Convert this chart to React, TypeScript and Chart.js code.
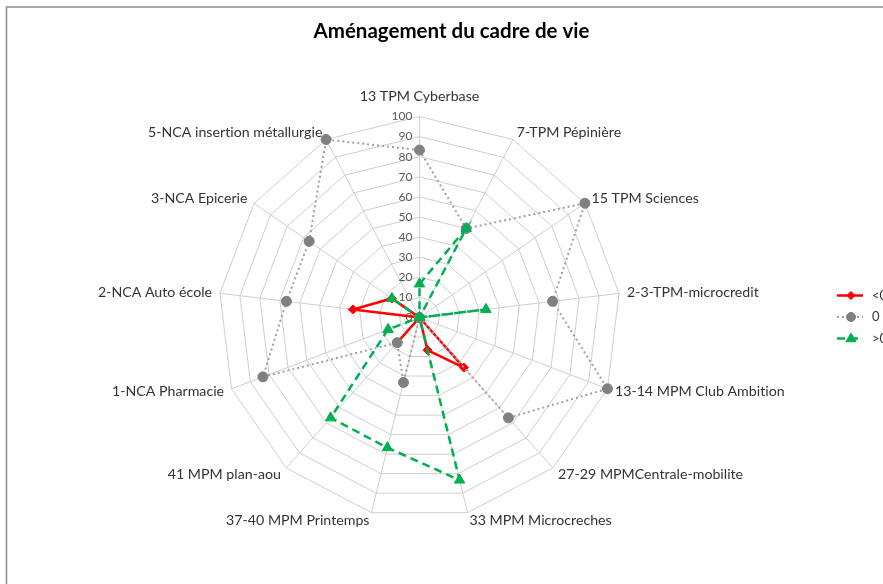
import React, { useEffect, useRef } from "react";
import { Chart, registerables } from "chart.js";

Chart.register(...registerables);

const categories: string[] = [
  "13 TPM Cyberbase",
  "7-TPM Pépinière",
  "15 TPM Sciences",
  "2-3-TPM-microcredit",
  "13-14 MPM Club Ambition",
  "27-29 MPMCentrale-mobilite",
  "33 MPM Microcreches",
  "37-40 MPM Printemps",
  "41 MPM plan-aou",
  "1-NCA Pharmacie",
  "2-NCA Auto école",
  "3-NCA Epicerie",
  "5-NCA insertion métallurgie",
];

const seriesNegative: number[] = [0, 0, 0, 0, 0, 33.3, 16.7, 0, 16.7, 0, 33.3, 16.7, 0];
const seriesZero: number[] = [83.3, 50, 100, 66.7, 100, 66.7, 0, 33.3, 16.7, 83.3, 66.7, 66.7, 100];
const seriesPositive: number[] = [16.7, 50, 0, 33.3, 0, 0, 83.3, 66.7, 66.7, 16.7, 0, 16.7, 0];

const seriesNames: string[] = ["<0", "0", ">0"];
const chartTitle = "Aménagement du cadre de vie";
const tickMin = 0;
const tickMax = 100;
const tickStep = 10;

const LABEL_FONT = "14.2px Lato";
const TICK_FONT = "12px Lato";

const geometryPlugin = {
  id: "geometry",
  afterLayout(chart: any) {
    const s = chart.scales.r;
    s.xCenter = 419.5;
    s.yCenter = 317.5;
    s.drawingArea = 201;
  },
};

const framePlugin = {
  id: "frame",
  beforeDraw(chart: any) {
    const ctx = chart.ctx;
    ctx.save();
    ctx.fillStyle = "#ffffff";
    ctx.fillRect(0, 0, chart.width, chart.height);
    ctx.strokeStyle = "#8c8c8c";
    ctx.lineWidth = 1.5;
    ctx.beginPath();
    ctx.moveTo(6.5, chart.height + 2);
    ctx.lineTo(6.5, 7);
    ctx.lineTo(chart.width + 2, 7);
    ctx.stroke();
    ctx.restore();
  },
};

const labelsPlugin = {
  id: "radarLabels",
  beforeDatasetsDraw(chart: any) {
    const s = chart.scales.r;
    const ctx = chart.ctx;
    ctx.save();
    try { (ctx as any).textRendering = "optimizeSpeed"; } catch (e) {}
    ctx.font = TICK_FONT;
    ctx.fillStyle = "#595959";
    ctx.textAlign = "right";
    ctx.textBaseline = "middle";
    s.ticks.forEach((t: any) => {
      const d = s.getDistanceFromCenterForValue(t.value);
      ctx.fillText(String(t.value), s.xCenter - 7, s.yCenter - d);
    });
    ctx.font = LABEL_FONT;
    ctx.fillStyle = "#333333";
    const n = chart.data.labels.length;
    for (let i = 0; i < n; i++) {
      const a = s.getIndexAngle(i);
      const sx = Math.sin(a);
      const cy = Math.cos(a);
      let pad = 8;
      if (cy > 0.99) pad = 20;
      const p = s.getPointPosition(i, s.drawingArea + pad);
      if (sx > 0.05) ctx.textAlign = "left";
      else if (sx < -0.05) ctx.textAlign = "right";
      else ctx.textAlign = "center";
      ctx.textBaseline = "middle";
      ctx.fillText(chart.data.labels[i], p.x, p.y);
    }
    ctx.restore();
  },
};

function drawMarker(ctx: CanvasRenderingContext2D, style: string, x: number, y: number, r: number, color: string) {
  ctx.fillStyle = color;
  ctx.strokeStyle = color;
  ctx.lineWidth = 1;
  ctx.setLineDash([]);
  ctx.beginPath();
  if (style === "circle") {
    ctx.arc(x, y, r, 0, Math.PI * 2);
  } else if (style === "rectRot") {
    ctx.moveTo(x, y - r);
    ctx.lineTo(x + r, y);
    ctx.lineTo(x, y + r);
    ctx.lineTo(x - r, y);
    ctx.closePath();
  } else {
    ctx.moveTo(x, y - r);
    ctx.lineTo(x + r * 0.95, y + r * 0.6);
    ctx.lineTo(x - r * 0.95, y + r * 0.6);
    ctx.closePath();
  }
  ctx.fill();
  ctx.stroke();
}

const legendPlugin = {
  id: "customLegend",
  afterDraw(chart: any) {
    const ctx = chart.ctx;
    ctx.save();
    const x0 = 837;
    const y0 = 295.5;
    chart.data.datasets.forEach((ds: any, i: number) => {
      const y = y0 + i * 21.5;
      ctx.strokeStyle = ds.borderColor;
      ctx.lineWidth = ds.borderWidth;
      ctx.setLineDash(ds.borderDash || []);
      ctx.beginPath();
      ctx.moveTo(x0, y);
      ctx.lineTo(x0 + 26, y);
      ctx.stroke();
      drawMarker(ctx, ds.pointStyle, x0 + 14, y, ds.pointRadius * 0.9, ds.pointBackgroundColor);
      ctx.font = "13px Lato";
      ctx.fillStyle = "#333333";
      ctx.textAlign = "left";
      ctx.textBaseline = "middle";
      ctx.fillText(ds.label, x0 + 35, y);
    });
    ctx.restore();
  },
};

export default function App() {
  const ref = useRef<HTMLCanvasElement>(null);
  useEffect(() => {
    if (!ref.current) return;
    const chart = new Chart(ref.current, {
      type: "radar",
      data: {
        labels: categories,
        datasets: [
          {
            label: seriesNames[0],
            data: seriesNegative,
            borderColor: "#ff0000",
            borderWidth: 2.5,
            pointStyle: "rectRot",
            pointRadius: 4.5,
            pointBackgroundColor: "#ff0000",
            pointBorderColor: "#ff0000",
            pointBorderWidth: 1,
            fill: false,
            order: 3,
          },
          {
            label: seriesNames[1],
            data: seriesZero,
            borderColor: "#a0a0a0",
            borderWidth: 2,
            borderDash: [2, 3],
            pointStyle: "circle",
            pointRadius: 5,
            pointBackgroundColor: "#808080",
            pointBorderColor: "#808080",
            pointBorderWidth: 1,
            fill: false,
            order: 2,
          },
          {
            label: seriesNames[2],
            data: seriesPositive,
            borderColor: "#00b050",
            borderWidth: 2.5,
            borderDash: [8, 5],
            pointStyle: "triangle",
            pointRadius: 6,
            pointBackgroundColor: "#00b050",
            pointBorderColor: "#00b050",
            pointBorderWidth: 1,
            fill: false,
            order: 1,
          },
        ] as any,
      },
      options: {
        responsive: false,
        animation: false,
        layout: { padding: { left: 20, right: 0, top: 0, bottom: 0 } },
        elements: { line: { tension: 0 } },
        scales: {
          r: {
            min: tickMin,
            max: tickMax,
            ticks: { stepSize: tickStep, display: false },
            grid: { color: "#cfcfcf", lineWidth: 1, circular: false },
            angleLines: { color: "#cfcfcf", lineWidth: 1 },
            pointLabels: { display: false },
          },
        },
        plugins: {
          legend: { display: false },
          tooltip: { enabled: false },
          title: {
            display: true,
            text: chartTitle,
            color: "#000000",
            font: { family: "Lato", size: 20.5, weight: "bold" },
            padding: { top: 19, bottom: 10 },
          },
        },
      } as any,
      plugins: [geometryPlugin, framePlugin, labelsPlugin, legendPlugin],
    });
    return () => chart.destroy();
  }, []);
  return (
    <div style={{ position: "fixed", left: 0, top: 0, width: 883, height: 584 }}>
      <canvas ref={ref} width={883} height={584} style={{ display: "block" }} />
    </div>
  );
}
